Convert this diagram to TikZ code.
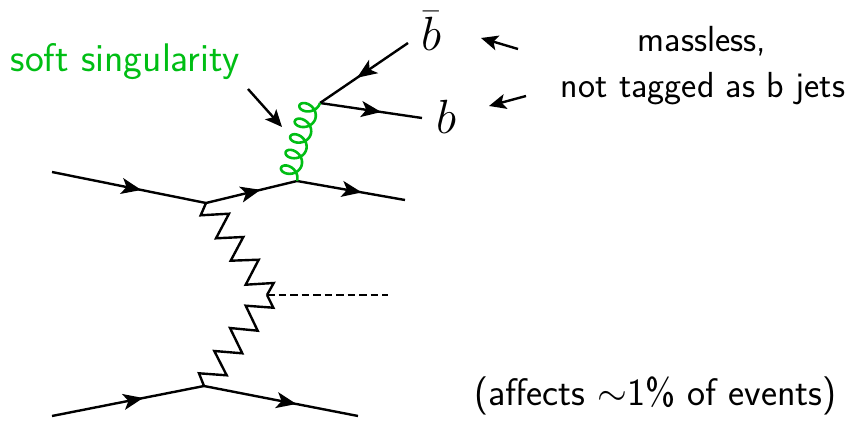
\RequirePackage{fix-cm}
\documentclass[tikz,border=0pt]{standalone}
\usetikzlibrary{arrows.meta,decorations.markings}
\definecolor{softgreen}{RGB}{0,190,20}
\tikzset{
  fermion/.style={line width=2.4pt,postaction={decorate},decoration={markings,mark=at position #1 with {\arrow{Stealth[length=20pt,width=16pt,inset=5pt]}}}},
  fermion/.default=0.55,
  pointer/.style={line width=2.4pt,-{Stealth[length=17pt,width=15pt,inset=4pt]}},
  boson/.style={line width=2.4pt,line join=miter},
  gluon/.style={softgreen,line width=2.6pt},
  lab/.style={font=\sffamily\fontsize{17.28}{20}\selectfont,inner sep=0pt,anchor=base},
  quark/.style={font=\fontsize{48}{48}\selectfont,inner sep=0pt}
}
\begin{document}
\begin{tikzpicture}[x=1pt,y=-1pt]
\useasboundingbox (0,0) rectangle (848,420);
\coordinate (a1) at (52,172);
\coordinate (v1) at (206,203);
\coordinate (v2) at (297,181);
\coordinate (a2) at (405,200);
\coordinate (v3) at (320,103);
\coordinate (bend) at (422,118);
\coordinate (bbarend) at (408,43);
\coordinate (a3) at (52,416);
\coordinate (v4) at (204,386);
\coordinate (a4) at (358,416);
\coordinate (h) at (267,295);
\coordinate (hend) at (388,295);
\draw[fermion=0.58] (a1) -- (v1);
\draw[fermion=0.6] (v1) -- (v2);
\draw[fermion=0.6] (v2) -- (a2);
\draw[fermion=0.6] (v3) -- (bend);
\draw[fermion=0.58] (bbarend) -- (v3);
\draw[fermion=0.6] (a3) -- (v4);
\draw[fermion=0.6] (v4) -- (a4);
\draw[boson] (v1) -- (200.7,215.3) -- (229,213.7) -- (216,238.3) -- (243.3,237) -- (230.7,260.7) -- (258.7,259.7) -- (245.7,284.7) -- (273.7,283) -- (h);
\draw[boson] (h) -- (273.3,307.7) -- (245.7,305.7) -- (257.7,330.7) -- (230,328) -- (242.3,353.3) -- (214.3,351) -- (226.7,375.3) -- (199,373.3) -- (v4);
\draw[line width=2.4pt,dash pattern=on 7.5pt off 4pt] (h) -- (hend);
\begin{scope}[shift={(v2)},rotate=73.6,x=1pt,y=1pt]
\draw[gluon] plot[domain=0:1800,samples=300] ({\x/1800*81.3+7.5*sin(\x)},{9.5*(1-cos(\x))});
\end{scope}
\node[quark] (bbar) at (431,31) {$\bar b$};
\node[quark] (b) at (446,117) {$b$};
\node[lab,text=softgreen,scale=2.31] (soft) at (125,71) {soft singularity};
\node[lab,scale=2.1] (massless) at (702,52) {massless,};
\node[lab,scale=2.097] (nottagged) at (703,97) {not tagged as b jets};
\node[lab,scale=2.22] (affects) at (655.5,405) {(affects $\sim$1\% of events)};
\coordinate (p1s) at (248,89);
\coordinate (p1e) at (282,127);
\coordinate (p2s) at (518,49);
\coordinate (p2e) at (481,38);
\coordinate (p3s) at (526,96);
\coordinate (p3e) at (489,106);
\draw[pointer] (p1s) -- (p1e);
\draw[pointer] (p2s) -- (p2e);
\draw[pointer] (p3s) -- (p3e);
\end{tikzpicture}
\end{document}
